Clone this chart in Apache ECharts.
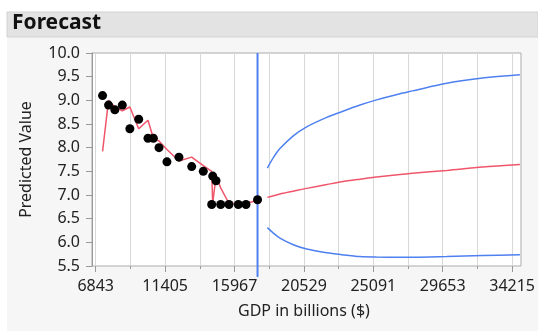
<!DOCTYPE html>
<html>
<head>
<meta charset="utf-8">
<script src="https://cdn.jsdelivr.net/npm/echarts@6/dist/echarts.min.js"></script>
<style>
  html, body { margin: 0; padding: 0; background: #ffffff; }
  #chart { width: 538px; height: 331px; }
</style>
</head>
<body>
<div id="chart"></div>
<script>
// Observed series: GDP (billions $) with actual and one-step predicted values
const gdp = [7290, 7680, 8090, 8577, 9070, 9645, 10251, 10600, 10968, 11486, 12268,
             13099, 13855, 14403, 14468, 14683, 14989, 15530, 16136, 16638, 17390];
const actual = [9.1, 8.9, 8.8, 8.9, 8.4, 8.6, 8.2, 8.2, 8.0, 7.7, 7.8,
                7.6, 7.5, 6.8, 7.4, 7.3, 6.8, 6.8, 6.8, 6.8, 6.9];
const fitted = [7.92, 9.0, 8.86, 8.78, 8.86, 8.40, 8.58, 8.20, 8.14, 7.96, 7.72,
                7.80, 7.62, 7.50, 6.82, 7.40, 7.15, 6.82, 6.82, 6.82, 6.89];

// Forecast horizon with mean and confidence limits
const forecastGdp = [18030, 18440, 18850, 19720, 20590, 21900, 22870, 24070, 25150, 26670, 27500, 29720, 32060, 34490];
const forecastMean = [6.95, 6.985, 7.02, 7.08, 7.14, 7.22, 7.28, 7.335, 7.38, 7.435, 7.46, 7.52, 7.59, 7.645];
const upperLimit = [7.57, 7.80, 7.98, 8.25, 8.44, 8.64, 8.76, 8.90, 9.01, 9.14, 9.20, 9.36, 9.47, 9.54];
const lowerLimit = [6.31, 6.19, 6.09, 5.95, 5.86, 5.78, 5.74, 5.70, 5.69, 5.685, 5.685, 5.70, 5.72, 5.74];

// Tick labels along the GDP axis (major ticks every 4562, minor every 2281)
const tickLabels = ['6843', '11405', '15967', '20529', '25091', '29653', '34215'];
const tickStep = 4562;

// Axis extents
const gdpMin = 6602, gdpMax = 34560;
const yMin = 5.5, yMax = 10.0, yStep = 0.5;
const markerBottom = 5.27;   // the divider line runs a little past the axis into the tick area

const RED = '#f0566b';
const BLUE = '#4f80f0';
const FONT = 'Noto Sans';
const TXT = '#222';

const chart = echarts.init(document.getElementById('chart'), null, { renderer: 'canvas' });
const last = gdp.length - 1;

chart.setOption({
  animation: false,
  backgroundColor: '#ffffff',
  graphic: [
    { type: 'rect', z: -20, shape: { x: 7, y: 12, width: 531, height: 319 }, style: { fill: '#f6f6f6' } },
    { type: 'rect', z: -19, shape: { x: 7, y: 12, width: 531, height: 25 }, style: { fill: '#e3e3e3', stroke: '#d2d2d2', lineWidth: 1 } },
    { type: 'text', z: 10, left: 12, top: 13,
      style: { text: 'Forecast', font: 'bold 21px "Noto Sans"', fill: '#111' } }
  ],
  grid: [
    { left: 92, top: 53, width: 429, height: 213, show: true, backgroundColor: '#ffffff',
      borderColor: '#ababab', borderWidth: 1, z: -1 },
    { left: 95.7, top: 53, width: 420, height: 213, show: false }
  ],
  xAxis: [
    { type: 'value', gridIndex: 0, min: gdpMin, max: gdpMax, show: false },
    { type: 'value', gridIndex: 1, min: 0, max: tickStep * (tickLabels.length - 1), interval: tickStep,
      axisLine: { show: false },
      axisTick: { show: true, length: 6, lineStyle: { color: '#999' } },
      minorTick: { show: true, splitNumber: 2, length: 3, lineStyle: { color: '#999' } },
      splitLine: { show: true, lineStyle: { color: '#d8d8d8', width: 1 } },
      minorSplitLine: { show: true, lineStyle: { color: '#d8d8d8', width: 1 } },
      axisLabel: { margin: 12, fontFamily: FONT, fontSize: 16, color: TXT,
                   formatter: (v, i) => tickLabels[i] },
      name: 'GDP in billions ($)', nameLocation: 'middle', nameGap: 37,
      nameTextStyle: { fontFamily: FONT, fontSize: 16, color: TXT } }
  ],
  yAxis: [
    { type: 'value', gridIndex: 0, min: yMin, max: yMax, interval: yStep,
      axisLine: { show: true, lineStyle: { color: '#999' } },
      axisTick: { show: true, length: 6, lineStyle: { color: '#999' } },
      splitLine: { show: false },
      axisLabel: { margin: 12, fontFamily: FONT, fontSize: 16, color: TXT,
                   formatter: v => v.toFixed(1) },
      name: 'Predicted Value', nameLocation: 'middle', nameGap: 58,
      nameTextStyle: { fontFamily: FONT, fontSize: 16, color: TXT } },
    { type: 'value', gridIndex: 1, min: yMin, max: yMax, show: false }
  ],
  series: [
    { type: 'line', name: 'Predicted', xAxisIndex: 0, yAxisIndex: 0,
      data: gdp.map((g, i) => [g, fitted[i]]),
      showSymbol: false, lineStyle: { color: RED, width: 1.5 }, z: 2 },
    { type: 'line', name: 'Last observation', xAxisIndex: 0, yAxisIndex: 0, clip: false,
      data: [[gdp[last], yMax], [gdp[last], markerBottom]],
      showSymbol: false, lineStyle: { color: BLUE, width: 2 }, z: 3 },
    { type: 'scatter', name: 'Actual', xAxisIndex: 0, yAxisIndex: 0,
      data: gdp.map((g, i) => [g, actual[i]]),
      symbolSize: 9, itemStyle: { color: '#000', opacity: 1 }, z: 4 },
    { type: 'line', name: 'Forecast', xAxisIndex: 0, yAxisIndex: 0,
      data: forecastGdp.map((g, i) => [g, forecastMean[i]]),
      smooth: 0.3, showSymbol: false, lineStyle: { color: RED, width: 1.5 }, z: 2 },
    { type: 'line', name: 'Upper CL', xAxisIndex: 0, yAxisIndex: 0,
      data: forecastGdp.map((g, i) => [g, upperLimit[i]]),
      smooth: 0.3, showSymbol: false, lineStyle: { color: BLUE, width: 1.5 }, z: 2 },
    { type: 'line', name: 'Lower CL', xAxisIndex: 0, yAxisIndex: 0,
      data: forecastGdp.map((g, i) => [g, lowerLimit[i]]),
      smooth: 0.3, showSymbol: false, lineStyle: { color: BLUE, width: 1.5 }, z: 2 }
  ]
});
</script>
</body>
</html>
